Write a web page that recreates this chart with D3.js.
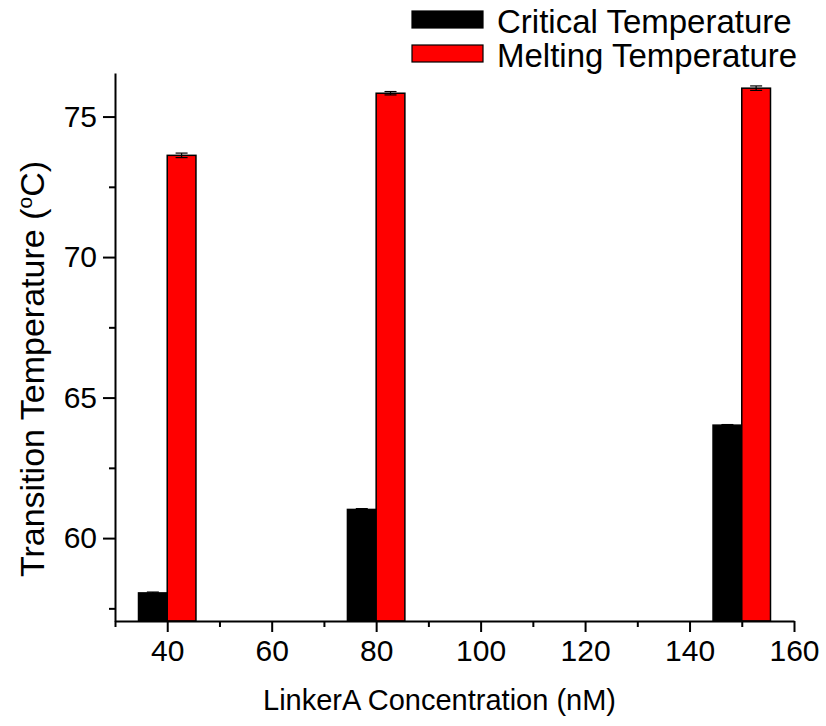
<!DOCTYPE html>
<html>
<head>
<meta charset="utf-8">
<script src="https://cdn.jsdelivr.net/npm/d3@7"></script>
<style>
  html, body { margin: 0; padding: 0; background: #fff; }
  svg text { font-family: "Liberation Sans", Arial, sans-serif; fill: #000; }
</style>
</head>
<body>
<svg id="chart" width="826" height="726"></svg>
<script>
// LinkerA concentrations (nM) and transition temperatures (°C)
const concentrations = [40, 80, 150];
const criticalTemp = [58.05, 61.02, 64.02];
const criticalErr = [0.03, 0.03, 0.02];
const meltingTemp = [73.62, 75.83, 76.01];
const meltingErr = [0.08, 0.06, 0.08];

const xTicks = [40, 60, 80, 100, 120, 140, 160];
const yTicks = [60, 65, 70, 75];
const seriesNames = ["Critical Temperature", "Melting Temperature"];
const seriesColors = ["#000000", "#ff0000"];

(function drawChart() {
  const barWidth = 5.5; // in concentration units

  const svg = d3.select("#chart");
  const plotLeft = 115, plotRight = 794, plotTop = 73, plotBottom = 621;

  const x = d3.scaleLinear().domain([30, 160]).range([plotLeft, plotRight]);
  const y = d3.scaleLinear().domain([57.05, 76.55]).range([plotBottom, plotTop]);

  // bars: critical to the left of each concentration, melting to the right
  const series = [
    { name: seriesNames[0], color: seriesColors[0], values: criticalTemp, errs: criticalErr, offset: -barWidth },
    { name: seriesNames[1], color: seriesColors[1], values: meltingTemp, errs: meltingErr, offset: 0 }
  ];

  series.forEach(s => {
    const g = svg.append("g");
    const data = concentrations.map((c, i) => ({ c, v: s.values[i], e: s.errs[i] }));
    g.selectAll("rect").data(data).enter().append("rect")
      .attr("x", d => x(d.c + s.offset))
      .attr("width", d => x(d.c + s.offset + barWidth) - x(d.c + s.offset))
      .attr("y", d => y(d.v))
      .attr("height", d => plotBottom - y(d.v))
      .attr("fill", s.color)
      .attr("stroke", "#000")
      .attr("stroke-width", 1.5);
    // error bars
    const cx = d => (x(d.c + s.offset) + x(d.c + s.offset + barWidth)) / 2;
    g.selectAll("line.err").data(data).enter().append("line")
      .attr("class", "err")
      .attr("x1", cx).attr("x2", cx)
      .attr("y1", d => y(d.v + d.e)).attr("y2", d => y(d.v - d.e))
      .attr("stroke", "#000").attr("stroke-width", 1.2);
    [1, -1].forEach(sign => {
      g.selectAll(null).data(data).enter().append("line")
        .attr("x1", d => cx(d) - 6).attr("x2", d => cx(d) + 6)
        .attr("y1", d => y(d.v + sign * d.e))
        .attr("y2", d => y(d.v + sign * d.e))
        .attr("stroke", "#000").attr("stroke-width", 1.2);
    });
  });

  // x axis
  const xAxis = d3.axisBottom(x).tickValues(xTicks).tickSize(11).tickSizeOuter(0).tickPadding(8);
  const gx = svg.append("g").attr("transform", `translate(0,${plotBottom})`).call(xAxis);
  gx.selectAll("text").attr("font-size", 30).attr("font-family", "Liberation Sans, Arial, sans-serif");
  const xMinor = d3.axisBottom(x).tickValues(d3.range(30, 161, 10).filter(v => !xTicks.includes(v))).tickSize(6).tickFormat("").tickSizeOuter(0);
  svg.append("g").attr("transform", `translate(0,${plotBottom})`).call(xMinor).select(".domain").remove();

  // y axis
  const yAxis = d3.axisLeft(y).tickValues(yTicks).tickSize(12).tickSizeOuter(0).tickPadding(6);
  const gy = svg.append("g").attr("transform", `translate(${plotLeft},0)`).call(yAxis);
  gy.selectAll("text").attr("font-size", 30).attr("font-family", "Liberation Sans, Arial, sans-serif");
  const yMinor = d3.axisLeft(y).tickValues([57.5, 62.5, 67.5, 72.5]).tickSize(6).tickFormat("").tickSizeOuter(0);
  svg.append("g").attr("transform", `translate(${plotLeft},0)`).call(yMinor).select(".domain").remove();

  svg.selectAll(".domain").attr("stroke-width", 2);
  svg.selectAll(".tick line").attr("stroke-width", 2);

  // axis titles
  svg.append("text")
    .attr("x", (plotLeft + plotRight) / 2 - 15).attr("y", 710)
    .attr("text-anchor", "middle").attr("font-size", 29)
    .text("LinkerA Concentration (nM)");

  const yt = svg.append("text")
    .attr("transform", "translate(44,369) rotate(-90)")
    .attr("text-anchor", "middle").attr("font-size", 34);
  yt.append("tspan").text("Transition Temperature (");
  yt.append("tspan").attr("font-size", 21).attr("dy", -12).text("o");
  yt.append("tspan").attr("dy", 12).text("C)");

  // legend
  const legend = svg.append("g");
  series.forEach((s, i) => {
    legend.append("rect")
      .attr("x", 412).attr("y", 11 + i * 34)
      .attr("width", 71).attr("height", 17)
      .attr("fill", s.color).attr("stroke", "#000").attr("stroke-width", 1.2);
    legend.append("text")
      .attr("x", 497).attr("y", 33 + i * 34)
      .attr("font-size", 33)
      .text(s.name);
  });
})();
</script>
</body>
</html>
